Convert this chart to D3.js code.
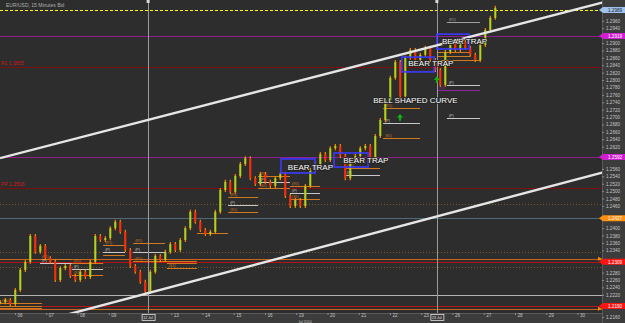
<!DOCTYPE html>
<html>
<head>
<meta charset="utf-8">
<script src="https://cdn.jsdelivr.net/npm/d3@7"></script>
<style>
  body { margin: 0; background: #2d2d2d; }
  svg { display: block; font-family: 'Liberation Sans', Arial, sans-serif; }
</style>
</head>
<body>
<svg id="chart" width="625" height="323"></svg>
<script>
// --- data ---

// x axis: trading days, 06 Jul = day 0
const dayNames = ['06', '07', '08', '09', '12', '13', '14', '15', '16', '19', '20', '21', '22', '23', '26', '27', '28', '29', '30']
const dayValues = [0, 1, 2, 3, 4, 5, 6, 7, 8, 9, 10, 11, 12, 13, 14, 15, 16, 17, 18]

// price axis labels
const priceTicks = [1.2160, 1.2180, 1.2200, 1.2220, 1.2240, 1.2260, 1.2280, 1.2300, 1.2320, 1.2340,
  1.2360, 1.2380, 1.2400, 1.2420, 1.2440, 1.2460, 1.2480, 1.2500, 1.2520, 1.2540,
  1.2560, 1.2580, 1.2600, 1.2620, 1.2640, 1.2660, 1.2680, 1.2700, 1.2720, 1.2740,
  1.2760, 1.2780, 1.2800, 1.2820, 1.2840, 1.2860, 1.2880, 1.2900, 1.2920, 1.2940,
  1.2960, 1.2980, 1.3000]

// closes, one bar every 0.16 day starting at day -0.47
const closes = [1.2200, 1.2206, 1.2195, 1.2233, 1.2287, 1.2309, 1.2379, 1.2336, 1.2352, 1.2319,
  1.2309, 1.2260, 1.2292, 1.2298, 1.2271, 1.2260, 1.2282, 1.2268, 1.2309, 1.2379,
  1.2368, 1.2373, 1.2400, 1.2417, 1.2390, 1.2341, 1.2298, 1.2282, 1.2255, 1.2228,
  1.2282, 1.2325, 1.2314, 1.2336, 1.2357, 1.2341, 1.2368, 1.2400, 1.2444, 1.2417,
  1.2395, 1.2384, 1.2390, 1.2444, 1.2503, 1.2525, 1.2498, 1.2541, 1.2573, 1.2589,
  1.2535, 1.2519, 1.2546, 1.2525, 1.2514, 1.2535, 1.2546, 1.2487, 1.2460, 1.2476,
  1.2460, 1.2514, 1.2557, 1.2573, 1.2600, 1.2584, 1.2616, 1.2622, 1.2595, 1.2535,
  1.2579, 1.2595, 1.2616, 1.2622, 1.2589, 1.2649, 1.2692, 1.2746, 1.2806, 1.2849,
  1.2756, 1.2860, 1.2881, 1.2854, 1.2868, 1.2887, 1.2854, 1.2827, 1.2787, 1.2876,
  1.2897, 1.2881, 1.2903, 1.2887, 1.2868, 1.2854, 1.2895, 1.2935, 1.2968, 1.2995]
const barStart = -0.47
const barStep = 0.16

// full width levels
const levelPrices = [1.2989, 1.2919, 1.2835, 1.2592, 1.2508, 1.2465, 1.2427, 1.2336, 1.2317, 1.2309, 1.2295, 1.2219, 1.2190, 1.2182]
const levelKinds = ['bid', 'magenta', 'darkred', 'magenta', 'darkred', 'dot', 'ma', 'dot', 'orange', 'red', 'dot', 'gray', 'red', 'orange']
const levelTags = ['', '', 'R1', '', 'PP', '', '', '', '', '', '', '', '', '']

// channel lines [day1, price1, day2, price2]
const trendLines = [
  [-0.48, 1.2589, 18.88, 1.3011],
  [1.60, 1.2165, 18.88, 1.2552]
]

// vertical markers
const markerDays = [4.26, 13.50]
const markerLabels = ['12 Jul', '23 Jul']

// daily pivot stubs
const pivots = [
  { from: -0.48, to: 0.86, price: 1.2198, label: '(R1)' },
  { from: -0.48, to: 0.86, price: 1.2190, label: '' },
  { from: -0.48, to: 0.86, price: 1.2184, label: '' },
  { from: 0.80, to: 1.82, price: 1.2317, label: '(R1)' },
  { from: 0.80, to: 1.82, price: 1.2306, label: '(P)' },
  { from: 1.82, to: 2.82, price: 1.2306, label: '(R1)' },
  { from: 1.82, to: 2.82, price: 1.2290, label: '(P)' },
  { from: 1.82, to: 2.82, price: 1.2273, label: '(S1)' },
  { from: 2.82, to: 3.52, price: 1.2354, label: '(R1)' },
  { from: 2.82, to: 3.52, price: 1.2336, label: '(P)' },
  { from: 2.82, to: 3.52, price: 1.2327, label: '' },
  { from: 3.78, to: 4.80, price: 1.2360, label: '(R1)' },
  { from: 3.78, to: 4.80, price: 1.2336, label: '(P)' },
  { from: 3.78, to: 5.82, price: 1.2311, label: '(S1)' },
  { from: 4.86, to: 5.82, price: 1.2306, label: '' },
  { from: 4.86, to: 5.82, price: 1.2292, label: '(S1)' },
  { from: 5.82, to: 6.82, price: 1.2387, label: '' },
  { from: 6.82, to: 7.78, price: 1.2484, label: '(R1)' },
  { from: 6.82, to: 7.78, price: 1.2462, label: '(P)' },
  { from: 6.82, to: 7.78, price: 1.2444, label: '(S1)' },
  { from: 7.78, to: 8.80, price: 1.2541, label: '(R1)' },
  { from: 7.78, to: 8.80, price: 1.2525, label: '(P)' },
  { from: 7.78, to: 8.80, price: 1.2508, label: '(S1)' },
  { from: 8.80, to: 9.76, price: 1.2514, label: '(R1)' },
  { from: 8.80, to: 9.76, price: 1.2495, label: '(P)' },
  { from: 8.80, to: 9.76, price: 1.2479, label: '(S1)' },
  { from: 10.56, to: 11.68, price: 1.2562, label: '(R1)' },
  { from: 10.56, to: 11.68, price: 1.2544, label: '(P)' },
  { from: 11.78, to: 12.96, price: 1.2725, label: '(R1)' },
  { from: 11.78, to: 12.96, price: 1.2684, label: '(P)' },
  { from: 11.78, to: 12.96, price: 1.2643, label: '(S1)' },
  { from: 13.82, to: 14.88, price: 1.2957, label: '(R1)' },
  { from: 13.82, to: 14.88, price: 1.2787, label: '(P)' },
  { from: 13.82, to: 14.88, price: 1.2698, label: '(P)' },
  { from: 13.50, to: 14.56, price: 1.2876, label: '' },
  { from: 13.50, to: 14.56, price: 1.2865, label: '' },
  { from: 13.50, to: 14.88, price: 1.2854, label: '' },
  { from: 13.50, to: 14.88, price: 1.2773, label: '(S1)' }
]

// pattern boxes [day1, price1, day2, price2]
const trapBoxes = [
  [8.51, 1.2587, 9.60, 1.2549],
  [10.21, 1.2603, 11.30, 1.2565],
  [12.38, 1.2862, 13.41, 1.2822],
  [13.50, 1.2924, 14.53, 1.2884]
]
const notes = [
  { day: 8.73, price: 1.2557, text: 'BEAR TRAP' },
  { day: 10.50, price: 1.2576, text: 'BEAR TRAP' },
  { day: 12.58, price: 1.2838, text: 'BEAR TRAP' },
  { day: 13.66, price: 1.2897, text: 'BEAR TRAP' },
  { day: 11.46, price: 1.2738, text: 'BELL SHAPED CURVE' }
]

// buy arrows
const arrowDays = [12.32, 13.50]
const arrowPrices = [1.2698, 1.2800]

// --- drawing ---
let svg = d3.select('#chart')
let plotRight = 602
let plotBottom = 313

let x = d3.scaleLinear().domain([0, 18]).range([15, 577.5])
let y = d3.scaleLinear().domain([1.2160, 1.3000]).range([317, 6])
let fmt = d3.format('.4f')

svg.append('rect').attr('width', 625).attr('height', 323).attr('fill', '#2d2d2d')

svg.append('defs').html(`
  <clipPath id="plotClip"><rect x="0" y="0" width="${plotRight}" height="${plotBottom}"/></clipPath>
  <clipPath id="trendClip"><rect x="0" y="0" width="607" height="${plotBottom}"/></clipPath>`)

let plot = svg.append('g').attr('clip-path', 'url(#plotClip)')

// title
svg.append('text')
  .attr('x', 6).attr('y', 7)
  .attr('fill', '#b0b0b0')
  .attr('font-size', 5)
  .text('EUR/USD, 15 Minutes Bid')

// full width levels
let levelStyle = {
  bid: { stroke: '#ffff00', dash: '3,2', width: 1, box: '#9fc3ea', text: '#1a1a3a' },
  magenta: { stroke: '#8e1e8e', dash: null, width: 1.2, box: '#d21ed2', text: '#ffffff' },
  darkred: { stroke: '#7c1010', dash: null, width: 1, box: null },
  dot: { stroke: '#6e5a28', dash: '1,2', width: 1, box: null },
  ma: { stroke: '#4f6b78', dash: null, width: 1, box: '#ff9010', text: '#ffffff' },
  orange: { stroke: '#c8641e', dash: null, width: 1, box: null, arrow: '#ff8c00' },
  red: { stroke: '#b41414', dash: null, width: 1, box: '#ff1414', text: '#ffffff' },
  gray: { stroke: '#b4b4b4', dash: null, width: 1, box: null }
}

levelPrices.forEach(function (p, i) {
  let s = levelStyle[levelKinds[i]]
  plot.append('line')
    .attr('x1', 0).attr('x2', plotRight)
    .attr('y1', Math.round(y(p)) + 0.5).attr('y2', Math.round(y(p)) + 0.5)
    .attr('stroke', s.stroke)
    .attr('stroke-width', s.width)
    .attr('stroke-dasharray', s.dash)
  if (levelTags[i]) {
    plot.append('text')
      .attr('x', 1).attr('y', y(p) - 2)
      .attr('fill', '#d01818')
      .attr('font-size', 5)
      .text(levelTags[i] + ' ' + fmt(p))
  }
})

// daily pivot stubs
let pivotColor = { '(R1)': '#d2781e', '(P)': '#c8c8c8', '(S1)': '#d2781e', '': '#d2781e' }
pivots.forEach(function (d) {
  let c = d.price === 1.2773 ? '#8e2a9e' : (d.price === 1.2957 ? '#a0a0a0' : pivotColor[d.label])
  plot.append('line')
    .attr('x1', x(d.from)).attr('x2', x(d.to))
    .attr('y1', Math.round(y(d.price)) + 0.5).attr('y2', Math.round(y(d.price)) + 0.5)
    .attr('stroke', c)
    .attr('stroke-width', 1)
  if (d.label) {
    plot.append('text')
      .attr('x', x(d.from) + 2).attr('y', y(d.price) - 1)
      .attr('fill', c)
      .attr('font-size', 3.6)
      .text(d.label)
  }
})

// vertical markers
markerDays.forEach(function (d) {
  plot.append('line')
    .attr('x1', Math.round(x(d)) + 0.5).attr('x2', Math.round(x(d)) + 0.5)
    .attr('y1', 0).attr('y2', plotBottom)
    .attr('stroke', '#9a9a9a')
    .attr('stroke-width', 1)
  svg.append('rect')
    .attr('x', x(d) - 1.5).attr('y', 0)
    .attr('width', 3).attr('height', 3)
    .attr('fill', '#d8d8d8')
})

// candles
let bars = closes.map(function (c, i) {
  return { t: barStart + i * barStep, open: i ? closes[i - 1] : c, close: c }
})
plot.selectAll('.wick')
  .data(bars)
  .enter()
  .append('line')
  .attr('x1', d => x(d.t)).attr('x2', d => x(d.t))
  .attr('y1', d => y(Math.max(d.open, d.close)) - 2)
  .attr('y2', d => y(Math.min(d.open, d.close)) + 2)
  .attr('stroke', '#ff8a00')
  .attr('stroke-width', 1.2)
plot.selectAll('.body')
  .data(bars)
  .enter()
  .append('rect')
  .attr('x', d => x(d.t) - 1)
  .attr('width', 2)
  .attr('y', d => y(Math.max(d.open, d.close)))
  .attr('height', d => Math.max(1, Math.abs(y(d.open) - y(d.close))))
  .attr('fill', d => d.close >= d.open ? '#b4d21e' : '#ff2a0a')

// buy arrows
arrowDays.forEach(function (d, i) {
  let cx = x(d)
  let cy = y(arrowPrices[i])
  plot.append('path')
    .attr('d', `M${cx},${cy - 4}L${cx + 3},${cy}L${cx + 1},${cy}L${cx + 1},${cy + 3}L${cx - 1},${cy + 3}L${cx - 1},${cy}L${cx - 3},${cy}Z`)
    .attr('fill', '#10b010')
})

// channel
let trendG = svg.append('g').attr('clip-path', 'url(#trendClip)')
trendLines.forEach(function (l) {
  trendG.append('line')
    .attr('x1', x(l[0])).attr('y1', y(l[1]))
    .attr('x2', x(l[2])).attr('y2', y(l[3]))
    .attr('stroke', '#e6e6e6')
    .attr('stroke-width', 2.4)
})

// trap boxes
trapBoxes.forEach(function (b) {
  plot.append('rect')
    .attr('x', x(b[0])).attr('y', y(b[1]))
    .attr('width', x(b[2]) - x(b[0]))
    .attr('height', y(b[3]) - y(b[1]))
    .attr('fill', 'none')
    .attr('stroke', '#3a3aff')
    .attr('stroke-width', 1.6)
})

// annotations
notes.forEach(function (n) {
  svg.append('text')
    .attr('x', x(n.day)).attr('y', y(n.price))
    .attr('font-size', 8)
    .attr('fill', '#ffffff')
    .attr('stroke', '#202020')
    .attr('stroke-width', 1.4)
    .attr('paint-order', 'stroke')
    .text(n.text)
})

// right price axis
svg.append('rect')
  .attr('x', plotRight).attr('y', 0)
  .attr('width', 625 - plotRight).attr('height', 323)
  .attr('fill', '#3c3c3c')
svg.append('line')
  .attr('x1', plotRight + 0.5).attr('x2', plotRight + 0.5)
  .attr('y1', 0).attr('y2', 323)
  .attr('stroke', '#5a5a5a')

// tags on the axis hide the tick labels under them
let taggedPrices = levelPrices.filter((p, i) => levelStyle[levelKinds[i]].box)
let freeTicks = priceTicks.filter(t => taggedPrices.every(p => Math.abs(y(p) - y(t)) > 5))

let yAxis = d3.axisRight(y)
  .tickValues(freeTicks)
  .tickFormat(fmt)
  .tickSize(2)
let gY = svg.append('g')
  .attr('transform', 'translate(' + plotRight + ',0)')
  .call(yAxis)
gY.select('.domain').remove()
gY.selectAll('line').attr('stroke', '#8a8a8a')
gY.selectAll('text')
  .attr('fill', '#c4c4c4')
  .attr('font-size', 4.6)
  .attr('font-family', 'Liberation Sans, Arial, sans-serif')
  .attr('x', 4)

// price tags on the axis
levelPrices.forEach(function (p, i) {
  let s = levelStyle[levelKinds[i]]
  let py = y(p)
  if (s.box) {
    svg.append('path')
      .attr('d', `M${plotRight - 3},${py}L${plotRight + 1},${py - 3}L625,${py - 3}L625,${py + 3}L${plotRight + 1},${py + 3}Z`)
      .attr('fill', s.box)
    svg.append('text')
      .attr('x', plotRight + 6).attr('y', py + 1.7)
      .attr('fill', s.text)
      .attr('font-size', 4.6)
      .text(fmt(p))
  } else if (s.arrow) {
    svg.append('path')
      .attr('d', `M${plotRight - 4},${py - 2}L${plotRight},${py}L${plotRight - 4},${py + 2}Z`)
      .attr('fill', s.arrow)
  }
})

// bottom time axis
svg.append('rect')
  .attr('x', 0).attr('y', plotBottom)
  .attr('width', plotRight).attr('height', 323 - plotBottom)
  .attr('fill', '#3c3c3c')
svg.append('line')
  .attr('x1', 0).attr('x2', plotRight)
  .attr('y1', plotBottom + 0.5).attr('y2', plotBottom + 0.5)
  .attr('stroke', '#5a5a5a')

// day labels under a marker tag are hidden by it
let freeDays = dayValues.filter(d => markerDays.every(m => Math.abs(x(m) - x(d)) > 12))
let xAxis = d3.axisBottom(x)
  .tickValues(freeDays)
  .tickFormat(d => dayNames[dayValues.indexOf(d)])
  .tickSize(2)
let gX = svg.append('g')
  .attr('transform', 'translate(0,' + plotBottom + ')')
  .call(xAxis)
gX.select('.domain').remove()
gX.selectAll('line').attr('stroke', '#8a8a8a')
gX.selectAll('text')
  .attr('fill', '#c4c4c4')
  .attr('font-size', 4.6)
  .attr('font-family', 'Liberation Sans, Arial, sans-serif')
  .attr('y', 1)
  .attr('text-anchor', 'start')
  .attr('dx', 2)

svg.append('text')
  .attr('x', x(9) + 2).attr('y', 323)
  .attr('fill', '#c4c4c4')
  .attr('font-size', 3.6)
  .text('Jul 2010')

// marker time tags
markerDays.forEach(function (d, i) {
  svg.append('rect')
    .attr('x', x(d) - 6).attr('y', plotBottom + 1.5)
    .attr('width', 13).attr('height', 6)
    .attr('fill', '#3c3c3c')
    .attr('stroke', '#e0e0e0')
    .attr('stroke-width', 0.8)
  svg.append('text')
    .attr('x', x(d)).attr('y', plotBottom + 6)
    .attr('text-anchor', 'middle')
    .attr('fill', '#e0e0e0')
    .attr('font-size', 3.6)
    .text(markerLabels[i])
})
</script>
</body>
</html>
